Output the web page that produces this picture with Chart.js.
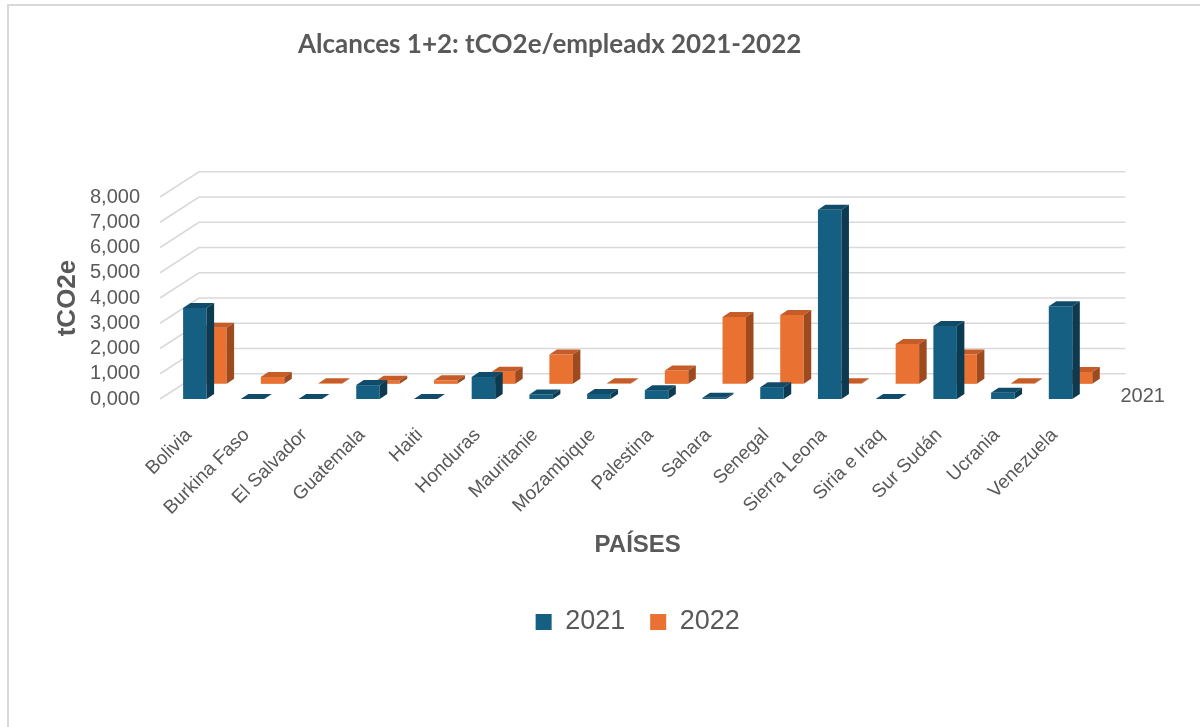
<!DOCTYPE html>
<html>
<head>
<meta charset="utf-8">
<script src="https://cdn.jsdelivr.net/npm/chart.js@4.4.1/dist/chart.umd.min.js"></script>
<style>
  html, body { margin: 0; padding: 0; background: #ffffff; }
  #wrap { position: relative; width: 1200px; height: 727px; overflow: hidden; }
  #frame { position: absolute; left: 7px; top: 4px; width: 1300px; height: 900px;
           border-left: 2px solid #d9d9d9; border-top: 2px solid #d9d9d9; pointer-events: none; }
  canvas { position: absolute; left: 0; top: 0; }
</style>
</head>
<body>
<div id="wrap">
  <div id="frame"></div>
  <canvas id="chart" width="1200" height="727"></canvas>
</div>
<script>
// ---- Data ----
const categories = ['Bolivia', 'Burkina Faso', 'El Salvador', 'Guatemala', 'Haiti', 'Honduras',
  'Mauritanie', 'Mozambique', 'Palestina', 'Sahara', 'Senegal', 'Sierra Leona',
  'Siria e Iraq', 'Sur Sudán', 'Ucrania', 'Venezuela'];
const seriesNames = ['2021', '2022'];
const values2021 = [3.60, 0.00, 0.00, 0.55, 0.00, 0.87, 0.18, 0.20, 0.35, 0.05, 0.47, 7.50, 0.00, 2.89, 0.25, 3.67];
const values2022 = [2.22, 0.27, 0.02, 0.12, 0.14, 0.48, 1.16, 0.02, 0.53, 2.65, 2.73, 0.02, 1.58, 1.16, 0.02, 0.47];
const yTickLabels = ['0,000', '1,000', '2,000', '3,000', '4,000', '5,000', '6,000', '7,000', '8,000'];
const chartTitle = 'Alcances 1+2: tCO2e/empleadx 2021-2022';
const yTitle = 'tCO2e';
const xTitle = 'PAÍSES';

const TEXT = '#595959';
const GRID = '#d9d9d9';
Chart.defaults.font.family = "'Liberation Sans', Arial, sans-serif";
Chart.defaults.color = TEXT;

// 3D look: walls behind, top/side faces for each bar
const depth3d = {
  id: 'depth3d',
  beforeDatasetsDraw(chart) {
    const ctx = chart.ctx, area = chart.chartArea;
    const yF = chart.scales.y, yB = chart.scales.yBack;
    const xf = area.left - 16, xb = area.left + 23, xr = area.right + 26;
    ctx.save();
    ctx.strokeStyle = GRID;
    ctx.lineWidth = 1.6;
    for (let i = 0; i < yTickLabels.length; i++) {
      const pf = yF.getPixelForValue(i), pb = yB.getPixelForValue(i);
      ctx.beginPath();
      ctx.moveTo(xf, pf);
      ctx.lineTo(xb, pb);
      ctx.lineTo(xr, pb);
      ctx.stroke();
    }
    ctx.restore();
  },
  afterDatasetDraw(chart, args) {
    const ctx = chart.ctx;
    const ds = chart.data.datasets[args.index];
    const dx = 7.5, dy = 5;
    ctx.save();
    args.meta.data.forEach(bar => {
      const p = bar.getProps(['x', 'y', 'base', 'width'], true);
      const l = p.x - p.width / 2, r = p.x + p.width / 2;
      const top = Math.min(p.y, p.base), bot = Math.max(p.y, p.base);
      ctx.fillStyle = ds.topColor;
      ctx.beginPath();
      ctx.moveTo(l, top); ctx.lineTo(l + dx, top - dy); ctx.lineTo(r + dx, top - dy); ctx.lineTo(r, top);
      ctx.closePath(); ctx.fill();
      ctx.fillStyle = ds.sideColor;
      ctx.beginPath();
      ctx.moveTo(r, top); ctx.lineTo(r + dx, top - dy); ctx.lineTo(r + dx, bot - dy); ctx.lineTo(r, bot);
      ctx.closePath(); ctx.fill();
    });
    ctx.restore();
  },
  afterDraw(chart) {
    const ctx = chart.ctx, area = chart.chartArea;
    const y0 = chart.scales.y.getPixelForValue(0);
    ctx.save();
    ctx.fillStyle = TEXT;
    ctx.font = "20px 'Liberation Sans', Arial, sans-serif";
    ctx.textAlign = 'left';
    ctx.textBaseline = 'middle';
    ctx.fillText(chart.data.datasets[0].label, area.right + 21, y0 - 3);
    ctx.restore();
  }
};

new Chart(document.getElementById('chart'), {
  type: 'bar',
  data: {
    labels: categories,
    datasets: [
      { label: seriesNames[0], data: values2021, yAxisID: 'y', order: 0,
        backgroundColor: '#156082', topColor: '#104c69', sideColor: '#0c3a50',
        categoryPercentage: 0.693, barPercentage: 1.175, clip: false },
      { label: seriesNames[1], data: values2022, yAxisID: 'yOrange', order: 1,
        backgroundColor: '#E97132', topColor: '#c65c27', sideColor: '#9e4a1e',
        categoryPercentage: 0.693, barPercentage: 1.175, clip: false }
    ]
  },
  options: {
    responsive: false,
    animation: false,
    layout: { padding: { left: 0, right: 100.6, top: 0, bottom: 81.5 } },
    plugins: {
      tooltip: { enabled: false },
      title: {
        display: true, text: chartTitle, color: TEXT,
        font: { family: "Lato, 'Liberation Sans', sans-serif", size: 26, weight: 'bold' },
        padding: { top: 29.4, bottom: 136.4 }
      },
      legend: {
        position: 'bottom', fullSize: false,
        labels: { color: TEXT, font: { size: 27 }, boxWidth: 16, boxHeight: 16, padding: 25 }
      }
    },
    scales: {
      x: {
        grid: { display: false, drawTicks: false },
        border: { display: false },
        ticks: { color: TEXT, font: { size: 19 }, minRotation: 45, maxRotation: 45,
                 autoSkip: false, padding: 25, labelOffset: -16 },
        title: { display: true, text: xTitle, color: TEXT, font: { size: 24, weight: 'bold' },
                 padding: { top: 0, bottom: 23.6 } },
        afterFit(scale) { scale.height = 184.5; }
      },
      y: {
        min: 0, max: 8,
        grid: { display: false, drawTicks: false },
        border: { display: false },
        ticks: { stepSize: 1, autoSkip: false, color: TEXT, font: { size: 20 }, padding: 36,
                 callback: (v) => yTickLabels[Math.round(v)] },
        title: { display: true, text: yTitle, color: TEXT, font: { size: 26, weight: 'bold' },
                 padding: { top: 52, bottom: 0 } },
        afterFit(scale) { scale.width = 176; }
      },
      yBack: { display: false, min: -1, max: 7 },
      yOrange: { display: false, min: -0.6, max: 7.4 }
    }
  },
  plugins: [depth3d]
});
</script>
</body>
</html>
